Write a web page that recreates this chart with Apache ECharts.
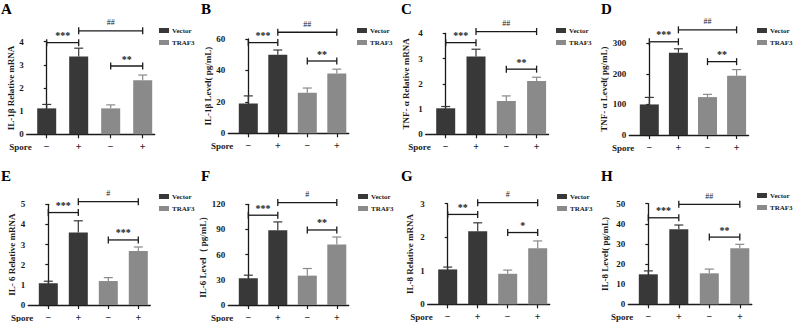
<!DOCTYPE html>
<html><head><meta charset="utf-8">
<script src="https://cdn.jsdelivr.net/npm/echarts@6/dist/echarts.min.js"></script>
<style>html,body{margin:0;padding:0;background:#fff}#c{width:794px;height:322px}</style>
</head><body><div id="c"></div>
<script>
// ---------- data ----------
const xTickLabels = ['−', '+', '−', '+'];
const xLabelTitle = 'Spore';
const groupNames = ['Vector', 'TRAF3'];
const barGroup = [0, 0, 1, 1];
const panelLetters = ['A', 'B', 'C', 'D', 'E', 'F', 'G', 'H'];
const yAxisNames = [
  'IL-1β Relative mRNA', 'IL-1β Level( pg/mL)', 'TNF- α Relative mRNA', 'TNF- α Level( pg/mL)',
  'IL- 6 Relative mRNA', 'IL-6 Level（ pg/mL）', 'IL-8 Relative mRNA', 'IL-8 Level( pg/mL)'
];
const yAxisMax = [4, 60, 4, 300, 5, 120, 3, 50];
const yAxisStep = [1, 20, 1, 100, 1, 30, 1, 10];

const il1bMrnaMean = [1.12, 3.36, 1.12, 2.33];
const il1bMrnaErr = [0.17, 0.36, 0.15, 0.23];
const il1bLevelMean = [19.0, 50.0, 25.8, 38.0];
const il1bLevelErr = [4.8, 3.0, 3.0, 2.8];
const tnfMrnaMean = [1.03, 3.08, 1.32, 2.11];
const tnfMrnaErr = [0.07, 0.29, 0.20, 0.15];
const tnfLevelMean = [100, 269, 124, 194];
const tnfLevelErr = [23, 13, 9, 20];
const il6MrnaMean = [1.08, 3.60, 1.19, 2.68];
const il6MrnaErr = [0.10, 0.58, 0.17, 0.20];
const il6LevelMean = [32, 89, 35, 72];
const il6LevelErr = [3.5, 10, 8.5, 9];
const il8MrnaMean = [1.04, 2.18, 0.91, 1.67];
const il8MrnaErr = [0.07, 0.25, 0.11, 0.22];
const il8LevelMean = [14.9, 37.3, 15.4, 27.8];
const il8LevelErr = [1.7, 2.1, 2.1, 2.0];

const panelMeans = [il1bMrnaMean, il1bLevelMean, tnfMrnaMean, tnfLevelMean, il6MrnaMean, il6LevelMean, il8MrnaMean, il8LevelMean];
const panelErrs = [il1bMrnaErr, il1bLevelErr, tnfMrnaErr, tnfLevelErr, il6MrnaErr, il6LevelErr, il8MrnaErr, il8LevelErr];

// significance brackets: pairs of bar indices, bracket heights (data units), labels
const sigPairs = [[0, 1], [1, 3], [2, 3]];
const sigHeights = [
  [3.96, 4.47, 2.95], [57.7, 64.3, 46], [3.63, 4.07, 2.58], [305, 344, 240],
  [4.59, 5.13, 3.23], [107, 122, 89.4], [2.68, 3.03, 2.14], [43, 49.7, 33.4]
];
const sigLabels = [
  ['***', '##', '**'], ['***', '##', '**'], ['***', '##', '**'], ['***', '##', '**'],
  ['***', '#', '***'], ['***', '#', '**'], ['**', '#', '*'], ['***', '##', '**']
];

// ---------- layout (pixels) ----------
const layout = [
  {tick0: 46.7, sp: 32.0, top: 41.7, bottom: 134.3, gap: 11, legL: 159, legT: 27, px: 0, py: 0},
  {tick0: 248.3, sp: 29.5, top: 39.0, bottom: 133.3, gap: 13, legL: 357, legT: 27, px: 200, py: 0},
  {tick0: 445.7, sp: 30.3, top: 33.3, bottom: 134.3, gap: 15, legL: 556, legT: 27, px: 400, py: 0},
  {tick0: 649.3, sp: 29.1, top: 43.3, bottom: 135.0, gap: 19, legL: 757, legT: 27, px: 600, py: 0},
  {tick0: 48.3, sp: 30.0, top: 204.3, bottom: 305.0, gap: 11, legL: 159, legT: 193, px: 0, py: 167},
  {tick0: 248.3, sp: 29.5, top: 204.3, bottom: 305.0, gap: 14, legL: 358, legT: 193, px: 200, py: 167},
  {tick0: 447.7, sp: 30.0, top: 203.7, bottom: 304.3, gap: 13, legL: 557, legT: 193, px: 400, py: 167},
  {tick0: 648.3, sp: 30.5, top: 203.7, bottom: 304.3, gap: 19, legL: 757, legT: 192, px: 600, py: 167}
];

const FONT = '"Liberation Serif", "Times New Roman", serif';
const INK = '#1a1a1a';
const groupColors = ['#383838', '#8a8a8a'];

const grids = [], xAxes = [], yAxes = [], series = [], legends = [], graphics = [];

layout.forEach((L, i) => {
  const left = L.tick0 - 20;
  const right = L.tick0 + 3 * L.sp + 12;
  grids.push({left: left, top: L.top, width: right - left, height: L.bottom - L.top, containLabel: false});
  xAxes.push({
    type: 'value', gridIndex: i, min: -20 / L.sp, max: 3 + 12 / L.sp,
    axisLine: {show: true, onZero: false, lineStyle: {color: INK, width: 1.3}},
    axisTick: {show: true, customValues: [0, 1, 2, 3], length: 4, lineStyle: {color: INK, width: 1.2}},
    axisLabel: {show: true, customValues: [0, 1, 2, 3], formatter: v => xTickLabels[Math.round(v)],
      margin: 7, fontSize: 10, fontWeight: 'bold', fontFamily: FONT, color: INK},
    splitLine: {show: false}
  });
  yAxes.push({
    type: 'value', gridIndex: i, min: 0, max: yAxisMax[i], interval: yAxisStep[i],
    name: yAxisNames[i], nameLocation: 'middle', nameGap: L.gap,
    nameTextStyle: {fontFamily: FONT, fontWeight: 'bold', fontSize: 9, color: INK},
    axisLine: {show: true, lineStyle: {color: INK, width: 1.3}},
    axisTick: {show: true, length: 3, lineStyle: {color: INK, width: 1.2}},
    axisLabel: {fontFamily: FONT, fontWeight: 'bold', fontSize: 9, color: INK, margin: 3},
    splitLine: {show: false}
  });
  const means = panelMeans[i], errs = panelErrs[i];
  groupNames.forEach((g, gi) => {
    const d = [];
    means.forEach((m, k) => { if (barGroup[k] === gi) d.push([k, m]); });
    series.push({
      type: 'bar', name: g, xAxisIndex: i, yAxisIndex: i, data: d,
      barWidth: 19, barGap: '-100%', itemStyle: {color: groupColors[gi]}, silent: true
    });
  });
  // error bars
  series.push({
    type: 'custom', xAxisIndex: i, yAxisIndex: i, silent: true, clip: false,
    data: means.map((m, k) => [k, m, errs[k]]),
    encode: {x: 0, y: 1},
    renderItem: (params, api) => {
      const x = api.value(0), m = api.value(1), e = api.value(2);
      const p0 = api.coord([x, m]), p1 = api.coord([x, m + e]);
      const c = groupColors[barGroup[params.dataIndex]];
      return {type: 'group', children: [
        {type: 'line', shape: {x1: p0[0], y1: p0[1], x2: p1[0], y2: p1[1]}, style: {stroke: c, lineWidth: 1.2}},
        {type: 'line', shape: {x1: p1[0] - 4.5, y1: p1[1], x2: p1[0] + 4.5, y2: p1[1]}, style: {stroke: c, lineWidth: 1.2}}
      ]};
    }
  });
  // significance brackets
  series.push({
    type: 'custom', xAxisIndex: i, yAxisIndex: i, silent: true, clip: false,
    data: sigPairs.map((p, k) => [p[0], p[1], sigHeights[i][k]]),
    encode: {x: [0, 1], y: 2},
    renderItem: (params, api) => {
      const a = api.coord([api.value(0), api.value(2)]);
      const b = api.coord([api.value(1), api.value(2)]);
      const lab = sigLabels[i][params.dataIndex];
      const isHash = lab.indexOf('#') >= 0;
      return {type: 'group', children: [
        {type: 'line', shape: {x1: a[0], y1: a[1], x2: b[0], y2: b[1]}, style: {stroke: INK, lineWidth: 1.3}},
        {type: 'line', shape: {x1: a[0], y1: a[1] - 3.5, x2: a[0], y2: a[1] + 3.5}, style: {stroke: INK, lineWidth: 1.3}},
        {type: 'line', shape: {x1: b[0], y1: b[1] - 3.5, x2: b[0], y2: b[1] + 3.5}, style: {stroke: INK, lineWidth: 1.3}},
        {type: 'text', x: (a[0] + b[0]) / 2, y: a[1] - (isHash ? 4 : 2),
          style: {text: lab, fontFamily: FONT, fontWeight: isHash ? 'normal' : 'bold',
            fontSize: isHash ? 8 : 10, fill: INK, align: 'center', verticalAlign: 'bottom'}}
      ]};
    }
  });
  legends.push({
    show: true, left: L.legL, top: L.legT, orient: 'vertical', padding: 0,
    data: groupNames, itemWidth: 10, itemHeight: 5, itemGap: 5, icon: 'rect', selectedMode: false,
    textStyle: {fontFamily: FONT, fontWeight: 'bold', fontSize: 7, color: INK, padding: [0, 0, 0, -2]}
  });
  graphics.push({
    type: 'text', left: L.px + 1, top: L.py + 1,
    style: {text: panelLetters[i], fontFamily: FONT, fontWeight: 'bold', fontSize: 15, fill: '#000'}
  });
  graphics.push({
    type: 'text', x: L.tick0 - 15, y: L.bottom + 12.5,
    style: {text: xLabelTitle, fontFamily: FONT, fontWeight: 'bold', fontSize: 9, fill: INK,
      align: 'right', verticalAlign: 'middle'}
  });
});

const chart = echarts.init(document.getElementById('c'), null, {renderer: 'svg'});
chart.setOption({
  animation: false,
  backgroundColor: '#ffffff',
  grid: grids, xAxis: xAxes, yAxis: yAxes, series: series, legend: legends, graphic: graphics
});
</script>
</body></html>
